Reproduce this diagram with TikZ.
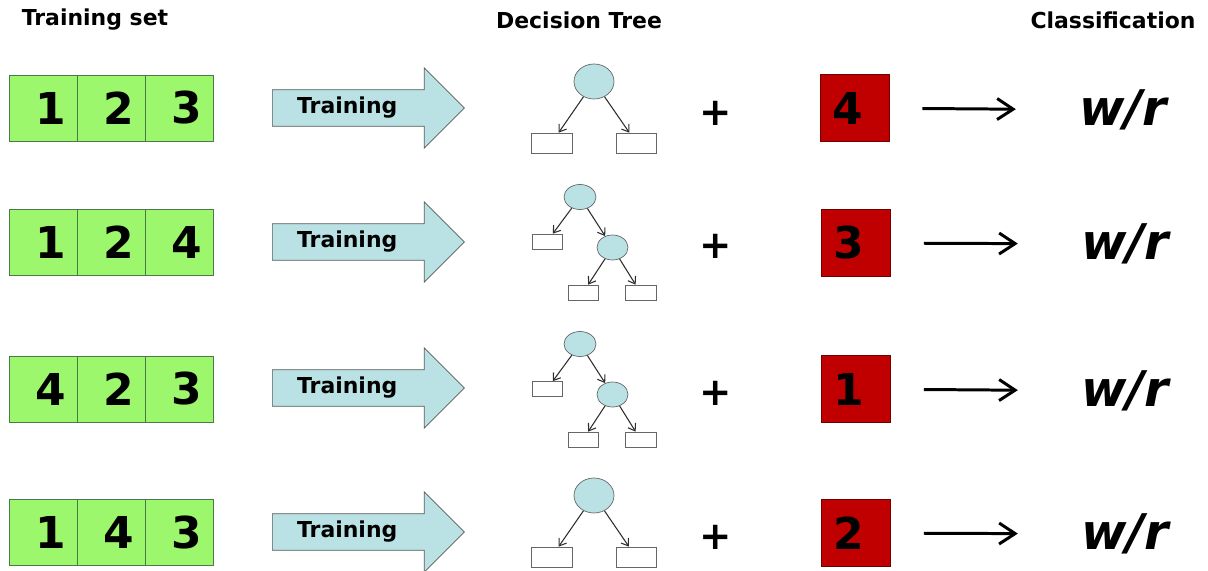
\documentclass[tikz,border=0pt]{standalone}
\usepackage{fontspec}
\setmainfont{DejaVu Sans}
\usetikzlibrary{arrows.meta,shapes.geometric,shapes.arrows}
\definecolor{Lime}{HTML}{9CF76C}
\definecolor{Sky}{HTML}{BAE2E5}
\definecolor{Wine}{HTML}{C00000}

\begin{document}
\begin{tikzpicture}[x=0.02cm,y=-0.02cm,>={Straight Barb[length=1.3mm,width=1.8mm]},
    title/.style={font=\fontsize{12.5}{15}\selectfont\bfseries},
    cell/.style={draw=green!25!black!70,fill=Lime,minimum width=1.36cm,minimum height=1.32cm,
      font=\fontsize{25}{29}\selectfont\bfseries,execute at begin node=\hspace{9pt}},
    train/.style={single arrow,draw=gray!70!black,fill=Sky,minimum height=3.84cm,minimum width=1.6cm,
      single arrow head extend=0.4cm,font=\fontsize{12.5}{15}\selectfont\bfseries,anchor=tail,
      execute at end node=\hspace{13.6pt}},
    split/.style={ellipse,draw=gray!80!black,fill=Sky,inner sep=0pt},
    leaf/.style={draw=gray!80!black,fill=white,inner sep=0pt},
    edge/.style={->,draw=gray!35!black,line width=0.6pt},
    plus/.style={font=\fontsize{22}{26}\selectfont\bfseries},
    test/.style={draw=Wine!60!black,fill=Wine,minimum width=1.38cm,minimum height=1.34cm,
      font=\fontsize{25}{29}\selectfont\bfseries,execute at end node=\hspace{8pt}},
    res/.style={font=\fontsize{28}{33}\selectfont\bfseries\itshape,inner sep=0pt},
    vote/.style={-{Straight Barb[length=3.2mm,width=4.2mm]},line width=1.7pt,shorten <=6.6mm,shorten >=12.6mm}]
  \useasboundingbox[fill=white] (0,0) rectangle (1208,571);
  \node[title] (h1) at (95,20) {Training set};
  \node[title] (h2) at (579,20) {Decision Tree};
  \node[title] (h3) at (1113,20) {Classification};

  % row 1
  \node[cell] (s11) at (43,108) {1};
  \node[cell] (s12) at (111,108) {2};
  \node[cell] (s13) at (179,108) {3};
  \node[train] (t1) at (272,108) {Training};
  \node[split,minimum width=0.8cm,minimum height=0.7cm] (r1) at (594,81.5) {};
  \node[leaf,minimum width=0.82cm,minimum height=0.4cm] (r1a) at (551.5,143) {};
  \node[leaf,minimum width=0.8cm,minimum height=0.4cm] (r1b) at (636.5,143) {};
  \draw[edge] (r1)--(r1a);
  \draw[edge] (r1)--(r1b);
  \node[plus] (p1) at (716,113) {+};
  \node[test] (q1) at (854.5,108) {4};
  \node[res] (c1) at (1123,110) {w/r};
  \draw[vote] (q1)--(c1);

  % row 2
  \node[cell] (s21) at (43,242) {1};
  \node[cell] (s22) at (111,242) {2};
  \node[cell] (s23) at (179,242) {4};
  \node[train] (t2) at (272,242) {Training};
  \node[split,minimum width=0.64cm,minimum height=0.5cm] (r2) at (580,197) {};
  \node[leaf,minimum width=0.6cm,minimum height=0.3cm] (r2a) at (547,241.5) {};
  \node[split,minimum width=0.62cm,minimum height=0.5cm] (r2b) at (612.5,247.5) {};
  \node[leaf,minimum width=0.6cm,minimum height=0.3cm] (r2c) at (583,292.5) {};
  \node[leaf,minimum width=0.62cm,minimum height=0.3cm] (r2d) at (640.5,292.5) {};
  \draw[edge] (r2)--(r2a);
  \draw[edge] (r2)--(r2b);
  \draw[edge] (r2b)--(r2c);
  \draw[edge] (r2b)--(r2d);
  \node[plus] (p2) at (716,246) {+};
  \node[test] (q2) at (856,243) {3};
  \node[res] (c2) at (1125,244) {w/r};
  \draw[vote] (q2)--(c2);

  % row 3
  \node[cell] (s31) at (43,389) {4};
  \node[cell] (s32) at (111,389) {2};
  \node[cell] (s33) at (179,389) {3};
  \node[train] (t3) at (272,388) {Training};
  \node[split,minimum width=0.64cm,minimum height=0.5cm] (r3) at (580,344) {};
  \node[leaf,minimum width=0.6cm,minimum height=0.3cm] (r3a) at (547,389) {};
  \node[split,minimum width=0.62cm,minimum height=0.5cm] (r3b) at (612.5,394.5) {};
  \node[leaf,minimum width=0.6cm,minimum height=0.3cm] (r3c) at (583,439.5) {};
  \node[leaf,minimum width=0.62cm,minimum height=0.3cm] (r3d) at (640.5,439.5) {};
  \draw[edge] (r3)--(r3a);
  \draw[edge] (r3)--(r3b);
  \draw[edge] (r3b)--(r3c);
  \draw[edge] (r3b)--(r3d);
  \node[plus] (p3) at (716,393) {+};
  \node[test] (q3) at (856,389) {1};
  \node[res] (c3) at (1125,391) {w/r};
  \draw[vote] (q3)--(c3);

  % row 4
  \node[cell] (s41) at (43,532.5) {1};
  \node[cell] (s42) at (111,532.5) {4};
  \node[cell] (s43) at (179,532.5) {3};
  \node[train] (t4) at (272,532) {Training};
  \node[split,minimum width=0.8cm,minimum height=0.7cm] (r4) at (594,495.5) {};
  \node[leaf,minimum width=0.82cm,minimum height=0.4cm] (r4a) at (551.5,557) {};
  \node[leaf,minimum width=0.8cm,minimum height=0.4cm] (r4b) at (636,557) {};
  \draw[edge] (r4)--(r4a);
  \draw[edge] (r4)--(r4b);
  \node[plus] (p4) at (716,537) {+};
  \node[test] (q4) at (856,533) {2};
  \node[res] (c4) at (1125,534) {w/r};
  \draw[vote] (q4)--(c4);
\end{tikzpicture}
\end{document}
